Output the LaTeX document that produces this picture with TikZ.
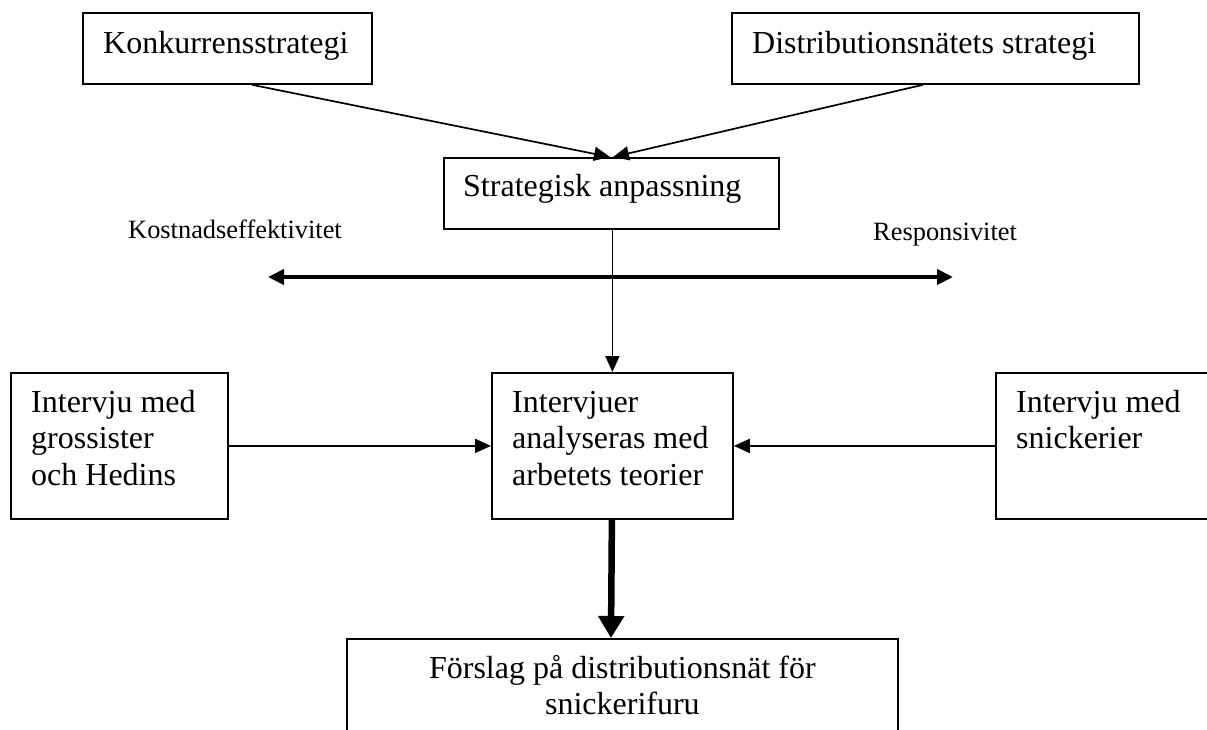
\documentclass[tikz,border=0pt]{standalone}
\usepackage{fontspec}
\setmainfont{Liberation Serif}
\usetikzlibrary{arrows.meta,calc}

\tikzset{
  box/.style={draw, line width=1.8pt, inner sep=0pt, anchor=north west},
  boxtext/.style={inner sep=0pt, anchor=base west, align=left,
    font=\fontsize{32pt}{36.8pt}\selectfont},
  axislabel/.style={inner sep=0pt, anchor=base west,
    font=\fontsize{26.4pt}{30pt}\selectfont},
  link/.style={line width=1.7pt, -{Triangle[length=16pt,width=14pt]}},
  axis/.style={line width=3.8pt, {Triangle[length=16pt,width=15pt]}-{Triangle[length=16pt,width=15pt]}},
  result/.style={line width=6.5pt, -{Triangle[length=22pt,width=25pt]}},
}

\begin{document}
\begin{tikzpicture}[x=1pt, y=-1pt]
  \useasboundingbox (0,0) rectangle (1207,729);
  \clip (0,0) rectangle (1207,729);

  % top row
  \node[box, minimum width=289pt, minimum height=71pt] (konk) at (82,12) {};
  \node[boxtext] (konkT) at ($(konk.north west)+(21,41)$) {Konkurrensstrategi};
  \node[box, minimum width=407pt, minimum height=71pt] (dist) at (731,12) {};
  \node[boxtext] (distT) at ($(dist.north west)+(21,41)$) {Distributionsnätets strategi};

  % strategic fit
  \node[box, minimum width=335pt, minimum height=71pt] (strat) at (443,157) {};
  \node[boxtext] (stratT) at ($(strat.north west)+(20,39)$) {Strategisk anpassning};

  % axis between cost efficiency and responsiveness
  \node[axislabel] (kost) at (128,238) {Kostnadseffektivitet};
  \node[axislabel] (resp) at (873,240) {Responsivitet};
  \coordinate (axL) at (268,277);
  \coordinate (axR) at (953,277);
  \draw[axis] (axL) -- (axR);

  % interview row (the base anchor of a multi-line node sits on its last line)
  \node[box, minimum width=217pt, minimum height=146pt] (left) at (10,372) {};
  \node[boxtext] (leftT) at ($(left.north west)+(21,113.6)$) {Intervju med\\grossister\\och Hedins};
  \node[box, minimum width=241pt, minimum height=146pt] (mid) at (491,372) {};
  \node[boxtext] (midT) at ($(mid.north west)+(21,113.6)$) {Intervjuer\\analyseras med\\arbetets teorier};
  \node[box, minimum width=212pt, minimum height=146pt] (right) at (995,372) {};
  \node[boxtext] (rightT) at ($(right.north west)+(21,76.8)$) {Intervju med\\snickerier};

  % proposal
  \node[box, minimum width=551pt, minimum height=130pt] (prop) at (346,638) {};
  \node[boxtext, anchor=base, align=center] (propT) at ($(prop.north)+(0,76.8)$) {Förslag på distributionsnät för\\snickerifuru};

  % connectors
  \draw[link] ($(konk.south west)+(170,0)$) -- ($(strat.north west)+(167,0)$);
  \draw[link] ($(dist.south west)+(192,0)$) -- ($(strat.north west)+(170,0)$);
  \draw[link] (strat.south -| mid.north) -- (mid.north);
  \draw[link] (left.east) -- (mid.west);
  \draw[link] (right.west) -- (mid.east);
  \draw[result] ($(mid.south)+(-0.5,0)$) -- ($(prop.north west)+(265,0)$);
\end{tikzpicture}
\end{document}
